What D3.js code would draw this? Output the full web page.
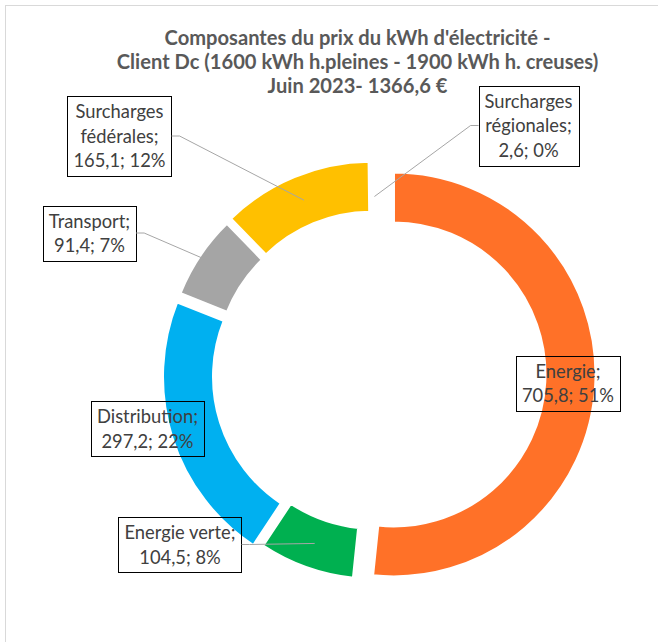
<!DOCTYPE html>
<html>
<head>
<meta charset="utf-8">
<script src="https://cdn.jsdelivr.net/npm/d3@7"></script>
<style>
  body { margin: 0; background: #fff; }
  svg { display: block; }
</style>
</head>
<body>
<svg id="chart" width="658" height="642"></svg>
<script>
// data
const categories = ["Energie", "Energie verte", "Distribution", "Transport", "Surcharges fédérales", "Surcharges régionales"];
const values = [705.8, 104.5, 297.2, 91.4, 165.1, 2.6];
const shares = [51, 8, 22, 7, 12, 0]; // % as printed on the labels
const colors = ["#ff7128", "#00b050", "#00b0f0", "#a5a5a5", "#ffc000", "#5b9bd5"];
const titleLines = [
  "Composantes du prix du kWh d'électricité -",
  "Client Dc (1600 kWh h.pleines - 1900 kWh h. creuses)",
  "Juin 2023- 1366,6 €"
];

// layout (not data)
const cx = 375.5, cy = 373.5;
const outerR = 202.5, innerR = 151.5;
const explode = [18, 3.5, 11, 9, 10.5, 0];
// label boxes: centre, and where the leader meets the slice (as radius), null = no leader
const labels = [
  { x: 568, y: 383, split: false, leader: null },
  { x: 180, y: 544.5, split: false, leader: { side: "right", r: 177 } },
  { x: 147.5, y: 428.5, split: false, leader: null },
  { x: 89.5, y: 233, split: false, leader: { side: "right", r: 197 } },
  { x: 119.5, y: 136, split: true, leader: { side: "right", r: 177 } },
  { x: 528.5, y: 125.5, split: true, leader: { side: "left", r: 177 } }
];

const font = "Lato, 'Open Sans', sans-serif";
const fmt = v => d3.format(".1f")(v).replace(".", ",");

const svg = d3.select("#chart");

// font size that gives a text the width it has in the picture
const fitSize = (str, width, weight) => {
  const t = svg.append("text")
    .attr("font-family", font)
    .attr("font-weight", weight)
    .attr("font-size", 20)
    .text(str);
  const w = t.node().getComputedTextLength();
  t.remove();
  return 20 * width / w;
};

// chart area frame
svg.append("rect")
  .attr("x", 5.5).attr("y", 5.5)
  .attr("width", 700).attr("height", 700)
  .attr("fill", "#fff")
  .attr("stroke", "#d9d9d9");

// title
svg.append("g")
  .attr("font-family", font)
  .attr("font-weight", "bold")
  .attr("font-size", fitSize(titleLines[1], 482, "bold"))
  .attr("fill", "#595959")
  .attr("text-anchor", "middle")
  .selectAll("text")
  .data(titleLines)
  .enter()
  .append("text")
  .attr("x", 357.5)
  .attr("y", (d, i) => 45 + i * 24)
  .text(d => d);

// doughnut
const pie = d3.pie().sort(null).value(d => d)(values);
const arc = d3.arc().innerRadius(innerR).outerRadius(outerR);

const offset = (d, i) => {
  const a = (d.startAngle + d.endAngle) / 2;
  return [cx + explode[i] * Math.sin(a), cy - explode[i] * Math.cos(a)];
};

svg.append("g")
  .selectAll("path")
  .data(pie)
  .enter()
  .append("path")
  .attr("transform", (d, i) => `translate(${offset(d, i)})`)
  .attr("d", arc)
  .attr("fill", (d, i) => colors[i])
  .attr("stroke", "#fff")
  .attr("stroke-width", 3);

// data labels
const labelSize = fitSize("Distribution;", 101, "normal");
const lg = svg.append("g")
  .attr("font-family", font)
  .attr("font-size", labelSize)
  .attr("fill", "#404040")
  .attr("text-anchor", "middle");

const lineH = 24.5;

pie.forEach((d, i) => {
  const L = labels[i];
  const name = categories[i] + ";";
  const lines = L.split ? name.split(" ") : [name];
  lines.push(`${fmt(values[i])}; ${shares[i]}%`);

  const g = lg.append("g");
  const top = L.y - (lines.length * lineH) / 2;
  const texts = g.selectAll("text")
    .data(lines)
    .enter()
    .append("text")
    .attr("x", L.x)
    .attr("y", (t, k) => top + 19 + k * lineH)
    .text(t => t);

  const tw = d3.max(texts.nodes(), n => n.getComputedTextLength());
  const bw = tw + 12;
  const bh = lines.length * lineH + 6;
  g.insert("rect", "text")
    .attr("x", Math.round(L.x - bw / 2) + 0.5)
    .attr("y", Math.round(L.y - bh / 2) + 0.5)
    .attr("width", Math.round(bw))
    .attr("height", Math.round(bh))
    .attr("fill", "none")
    .attr("stroke", "#000");

  if (L.leader) {
    const [ox, oy] = offset(d, i);
    const a = (d.startAngle + d.endAngle) / 2;
    const tx = ox + L.leader.r * Math.sin(a);
    const ty = oy - L.leader.r * Math.cos(a);
    const sx = L.leader.side === "right" ? L.x + bw / 2 : L.x - bw / 2;
    const kx = L.leader.side === "right" ? sx + 8 : sx - 8;
    svg.append("path")
      .attr("d", d3.line()([[sx, L.y], [kx, L.y], [tx, ty]]))
      .attr("fill", "none")
      .attr("stroke", "#a6a6a6")
      .attr("stroke-width", 1);
  }
});
</script>
</body>
</html>
